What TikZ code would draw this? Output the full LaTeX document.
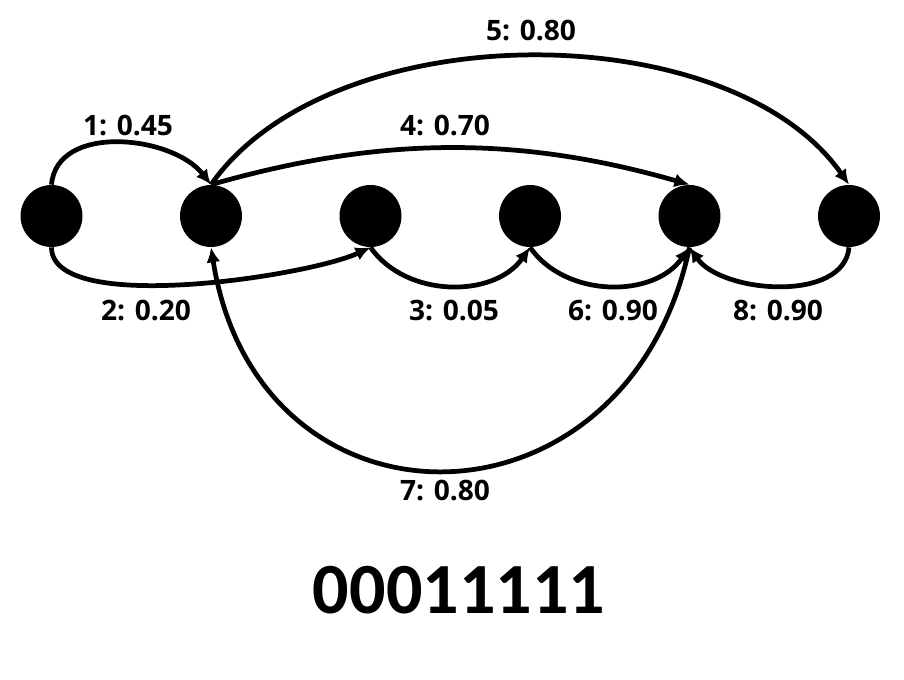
\documentclass[tikz,border=0pt]{standalone}
\usepackage{fontspec}
\setmainfont{Open Sans}
\newfontfamily\codefont{Carlito}
\usetikzlibrary{arrows.meta}
\tikzset{
  vertex/.style={circle, fill=black, minimum size=1.24cm, inner sep=0pt},
  trans/.style={-{Latex[length=3mm,width=2.8mm]}, line width=2.7pt},
  weight/.style={font=\bfseries\fontsize{16}{18}\selectfont, inner sep=0pt},
}
\begin{document}
\begin{tikzpicture}[x=0.02cm, y=0.02cm]
  \useasboundingbox (0,0) rectangle (904,680);
  % vertices
  \node[vertex] (v1) at (51.5,464) {};
  \node[vertex] (v2) at (211,464) {};
  \node[vertex] (v3) at (370.5,464) {};
  \node[vertex] (v4) at (530,464) {};
  \node[vertex] (v5) at (689.5,464) {};
  \node[vertex] (v6) at (849,464) {};
  % transitions
  \draw[trans] (v1.north) to[out=85,in=128] (v2.north);
  \draw[trans] (v1.south) to[out=-90,in=-155,looseness=0.55] (v3.south);
  \draw[trans] (v3.south) to[out=-55,in=-125] (v4.south);
  \draw[trans] (v2.north) to[out=16,in=164,looseness=0.95] (v5.north);
  \draw[trans] (v2.north) to[out=55,in=125,looseness=0.84] (v6.north);
  \draw[trans] (v4.south) to[out=-55,in=-125] (v5.south);
  \draw[trans] (v5.south) to[out=-102,in=-81,looseness=1.62] (v2.south);
  \draw[trans] (v6.south) to[out=-95,in=-55,looseness=0.9] (v5.south);
  % weights
  \node[weight] (w1) at (128,555) {1: 0.45};
  \node[weight] (w2) at (146,370) {2: 0.20};
  \node[weight] (w3) at (454,370) {3: 0.05};
  \node[weight] (w4) at (445,555) {4: 0.70};
  \node[weight] (w5) at (531,650) {5: 0.80};
  \node[weight] (w6) at (613,370) {6: 0.90};
  \node[weight] (w7) at (445,190) {7: 0.80};
  \node[weight] (w8) at (778,370) {8: 0.90};
  % bit string
  \node[inner sep=0pt, font=\codefont\bfseries\fontsize{41}{45}\selectfont] (code) at (459,90) {00011111};
\end{tikzpicture}
\end{document}
